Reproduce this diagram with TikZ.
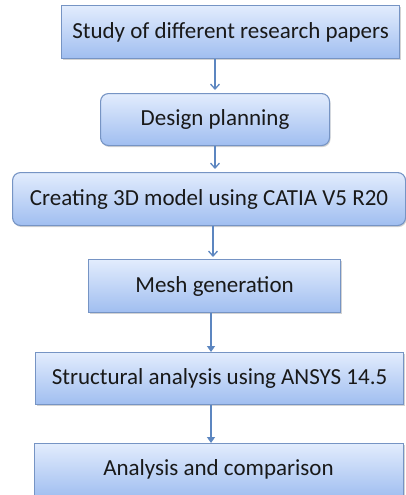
\documentclass[tikz,border=0pt]{standalone}
\usepackage{fontspec}
\setmainfont{Carlito}
\usetikzlibrary{arrows.meta,shadows}
\definecolor{boxtop}{RGB}{226,236,253}
\definecolor{boxbot}{RGB}{160,190,240}
\definecolor{boxline}{RGB}{118,148,196}
\definecolor{arrcol}{RGB}{92,134,192}
\definecolor{txt}{RGB}{25,25,25}
\tikzset{
  stepbox/.style={draw=boxline, line width=1.1pt, top color=boxtop, bottom color=boxbot,
    inner sep=0pt, anchor=north west, text=txt,
    font=\fontsize{23}{26}\selectfont,
    drop shadow={shadow xshift=1pt, shadow yshift=-1.5pt, opacity=0.35}},
  roundbox/.style={stepbox, rounded corners=8pt},
  openarr/.style={draw=arrcol, line width=1.3pt, -{Straight Barb[length=5pt,width=9pt,line width=1.3pt]}, shorten >=3pt},
  fillarr/.style={draw=arrcol, line width=1.3pt, -{Triangle[length=6pt,width=8pt]}}
}
\begin{document}
\begin{tikzpicture}[x=1pt,y=1pt]
\useasboundingbox (0,0) rectangle (406,-495);
\begin{scope}
\clip (0,0) rectangle (406,-495);
\node[stepbox, minimum width=338pt, minimum height=53pt] (b1) at (61,-5) {Study of different research papers};
\node[roundbox, minimum width=229pt, minimum height=52pt] (b2) at (100,-93) {Design planning};
\node[roundbox, minimum width=393pt, minimum height=53pt] (b3) at (12,-172) {Creating 3D model using CATIA V5 R20};
\node[stepbox, minimum width=252pt, minimum height=53pt] (b4) at (88,-259) {Mesh generation};
\node[stepbox, minimum width=368pt, minimum height=52pt] (b5) at (35,-352) {Structural analysis using ANSYS 14.5};
\node[stepbox, minimum width=369pt, minimum height=54pt] (b6) at (34,-443) {};
\node[text=txt, font=\fontsize{23}{26}\selectfont] (t6) at (218.5,-469) {Analysis and comparison};
\end{scope}
\coordinate (x1) at (215,0);
\coordinate (x2) at (215,0);
\coordinate (x3) at (213,0);
\coordinate (x4) at (211,0);
\coordinate (x5) at (211,0);
\draw[openarr] (b1.south -| x1) -- (b2.north -| x1);
\draw[openarr] (b2.south -| x2) -- (b3.north -| x2);
\draw[openarr, shorten >=2pt] (b3.south -| x3) -- (b4.north -| x3);
\draw[fillarr] (b4.south -| x4) -- (b5.north -| x4);
\draw[fillarr] (b5.south -| x5) -- (b6.north -| x5);
\end{tikzpicture}
\end{document}
